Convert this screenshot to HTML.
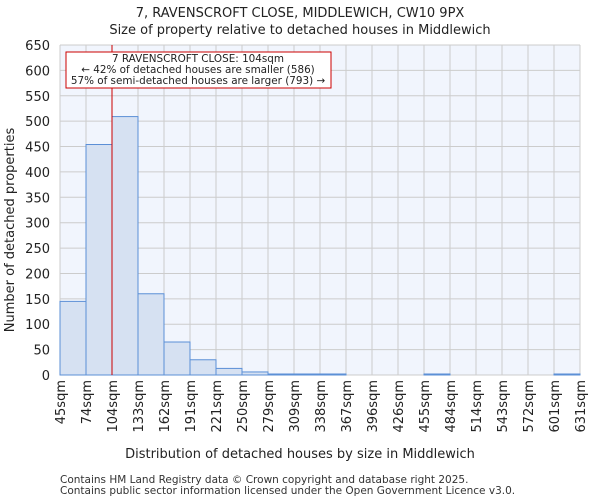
<!DOCTYPE html>
<html><head><meta charset="utf-8"><style>
body{margin:0;background:#fff;font-family:"DejaVu Sans","Liberation Sans",sans-serif;}
</style></head><body>
<svg width="600" height="500" xmlns="http://www.w3.org/2000/svg" font-family="DejaVu Sans, Liberation Sans, sans-serif">
<text x="300" y="17" text-anchor="middle" font-size="13" fill="#222">7, RAVENSCROFT CLOSE, MIDDLEWICH, CW10 9PX</text>
<text x="300" y="34" text-anchor="middle" font-size="13" fill="#222">Size of property relative to detached houses in Middlewich</text>
<rect x="60" y="45" width="520" height="330" fill="#f1f5fd"/>
<g id="grid"></g><g id="bars"></g><g id="yticks"></g><g id="xticks"></g>
<text transform="translate(14,230) rotate(-90)" text-anchor="middle" font-size="13" fill="#222">Number of detached properties</text>
<text x="300" y="458" text-anchor="middle" font-size="13" fill="#222">Distribution of detached houses by size in Middlewich</text>
<text x="60" y="483" font-size="10.5" fill="#333">Contains HM Land Registry data © Crown copyright and database right 2025.</text>
<text x="60" y="494" font-size="10.5" fill="#333">Contains public sector information licensed under the Open Government Licence v3.0.</text>
<line id="marker" y1="45" y2="375" stroke="#cc0000" stroke-width="1"/>
<g>
<rect x="66" y="52" width="265" height="36" fill="#fff" stroke="#cc0000" stroke-width="1"/>
<text x="198" y="62" text-anchor="middle" font-size="10.4" fill="#222">7 RAVENSCROFT CLOSE: 104sqm</text>
<text x="198" y="73" text-anchor="middle" font-size="10.4" fill="#222">← 42% of detached houses are smaller (586)</text>
<text x="198" y="84" text-anchor="middle" font-size="10.4" fill="#222">57% of semi-detached houses are larger (793) →</text>
</g>
</svg>
<script>
const categories=["45sqm","74sqm","104sqm","133sqm","162sqm","191sqm","221sqm","250sqm","279sqm","309sqm","338sqm","367sqm","396sqm","426sqm","455sqm","484sqm","514sqm","543sqm","572sqm","601sqm","631sqm"];
const counts=[145,454,509,160,65,30,13,6,2,2,2,0,0,0,2,0,0,0,0,2];
const yTicks=[0,50,100,150,200,250,300,350,400,450,500,550,600,650];
const markerBin=2;
const NS="http://www.w3.org/2000/svg";
const x0=60,x1=580,y0=375,y1=45,yMax=650;
const bw=(x1-x0)/counts.length;
const xs=i=>x0+i*bw;
const ys=v=>y0-(v/yMax)*(y0-y1);
function mk(t,a){const e=document.createElementNS(NS,t);for(const k in a)e.setAttribute(k,a[k]);return e;}
const grid=document.getElementById('grid'),bars=document.getElementById('bars'),yt=document.getElementById('yticks'),xt=document.getElementById('xticks');
yTicks.forEach(v=>{
 const l=mk('line',{x1:x0,x2:x1,y1:ys(v),y2:ys(v),stroke:'#cccccc'});
 
 
 grid.appendChild(l);
 const t=mk('text',{x:50,y:ys(v)+5,'text-anchor':'end','font-size':13,fill:'#222'});
 t.textContent=v;
 
 
 yt.appendChild(t);
});
categories.forEach((c,i)=>{
 const x=xs(i);
 const l=mk('line',{x1:x,x2:x,y1:y1,y2:y0,stroke:'#cccccc'});
 
 
 grid.appendChild(l);
 const t=mk('text',{transform:`translate(${x+5},${380}) rotate(-90)`,'text-anchor':'end','font-size':13,fill:'#222'});
 t.textContent=c;
 
 
 xt.appendChild(t);
});
counts.forEach((v,i)=>{
 if(v<=0)return;
 const r=mk('rect',{x:xs(i),y:ys(v),width:bw,height:y0-ys(v),fill:'#d6e1f2',stroke:'#5b8fd6','stroke-width':1});
 
 
 bars.appendChild(r);
});
const m=document.getElementById('marker');m.setAttribute('x1',xs(markerBin));m.setAttribute('x2',xs(markerBin));
</script>
</body></html>
